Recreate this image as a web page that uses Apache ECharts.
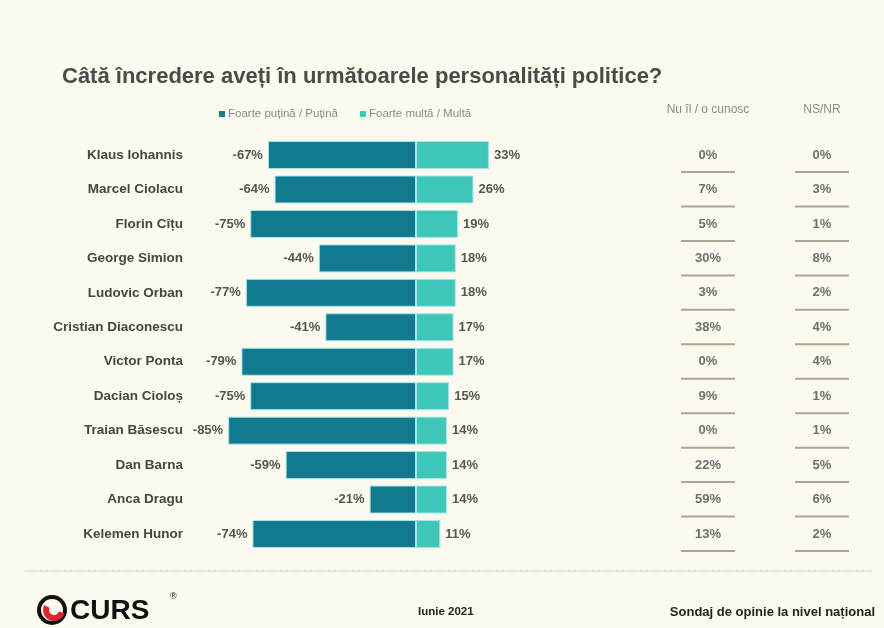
<!DOCTYPE html>
<html><head><meta charset="utf-8">
<script src="https://cdn.jsdelivr.net/npm/echarts@6/dist/echarts.min.js"></script>
<style>html,body{margin:0;padding:0;background:#fcfaef;}#c{width:884px;height:628px;}</style>
</head><body><div id="c"></div>
<script>
const names = ['Klaus Iohannis','Marcel Ciolacu','Florin Cîțu','George Simion','Ludovic Orban','Cristian Diaconescu','Victor Ponta','Dacian Cioloș','Traian Băsescu','Dan Barna','Anca Dragu','Kelemen Hunor'];
const little = [-67,-64,-75,-44,-77,-41,-79,-75,-85,-59,-21,-74];
const much = [33,26,19,18,18,17,17,15,14,14,14,11];
const dontKnow = [0,7,5,30,3,38,0,9,0,22,59,13];
const nsnr = [0,3,1,8,2,4,4,1,1,5,6,2];
const colHeaders = ['Nu îl / o cunosc','NS/NR'];

const tableData = [];
dontKnow.forEach((v,i)=>tableData.push([0,i,v]));
nsnr.forEach((v,i)=>tableData.push([1,i,v]));

const chart = echarts.init(document.getElementById('c'));
const font = 'Liberation Sans, Arial, sans-serif';
chart.setOption({
  backgroundColor:'#fcfaef',
  animation:false,
  title:{text:'Câtă încredere aveți în următoarele personalități politice?',left:57,top:61,
    textStyle:{fontFamily:font,fontSize:22,fontWeight:'bold',color:'#4a4a4a'}},
  legend:{left:214,top:103,itemWidth:6,itemHeight:6,icon:'rect',itemGap:22,
    itemStyle:{borderWidth:0},
    textStyle:{fontFamily:font,fontSize:11.5,color:'#8a8a8a',padding:[0,0,0,-2]},
    data:['Foarte puțină / Puțină','Foarte multă / Multă']},
  grid:[{left:195,width:309.4,top:137.8,height:413.4},
        {left:651,width:228,top:137.8,height:413.4}],
  xAxis:[{type:'value',min:-100,max:40,gridIndex:0,show:false},
         {type:'category',gridIndex:1,data:colHeaders,position:'top',
          axisLine:{show:false},axisTick:{show:false},
          axisLabel:{margin:22,fontFamily:font,fontSize:12,color:'#8a8a8a'}}],
  yAxis:[{type:'category',data:names,inverse:true,gridIndex:0,
          axisLine:{show:false},axisTick:{show:false},
          axisLabel:{margin:12,fontFamily:font,fontSize:13.5,fontWeight:'bold',color:'#454545'}},
         {type:'category',data:names,inverse:true,gridIndex:1,show:false}],
  series:[
    {name:'Foarte puțină / Puțină',type:'bar',stack:'a',data:little,barWidth:28,
     itemStyle:{color:'#13798f',borderColor:'#a8e6ec',borderWidth:1},
     label:{show:true,position:'left',distance:5,formatter:'{c}%',fontFamily:font,fontSize:13,fontWeight:'bold',color:'#555'}},
    {name:'Foarte multă / Multă',type:'bar',stack:'a',data:much,barWidth:28,
     itemStyle:{color:'#3ec6b8',borderColor:'#a8e6ec',borderWidth:1},
     label:{show:true,position:'right',distance:5,formatter:'{c}%',fontFamily:font,fontSize:13,fontWeight:'bold',color:'#555'}},
    {type:'custom',xAxisIndex:1,yAxisIndex:1,data:tableData,
     renderItem:function(params,api){
       const p = api.coord([api.value(0),api.value(1)]);
       return {type:'group',children:[
         {type:'text',style:{text:api.value(2)+'%',x:p[0],y:p[1],align:'center',verticalAlign:'middle',
           font:'bold 13px '+font,fill:'#6f6f6f'}},
         {type:'line',shape:{x1:p[0]-27,y1:p[1]+17,x2:p[0]+27,y2:p[1]+17},style:{stroke:'#aaa696',lineWidth:2}}
       ]};
     }}
  ],
  graphic:[
    {type:'line',shape:{x1:25,y1:571,x2:872,y2:571},style:{stroke:'#d2d0c6',lineWidth:1.5,lineDash:[2,1]}},
    {type:'circle',shape:{cx:52,cy:610,r:13},style:{fill:'none',stroke:'#111',lineWidth:4}},
    {type:'arc',shape:{cx:54,cy:610,r:8,startAngle:0.3,endAngle:3.6},style:{stroke:'#d8262b',lineWidth:6,fill:'none'}},
    {type:'text',style:{text:'CURS',x:70,y:611,verticalAlign:'middle',font:'bold 28px '+font,fill:'#111'}},
    {type:'text',style:{text:'®',x:170,y:597,verticalAlign:'middle',font:'9px '+font,fill:'#111'}},
    {type:'text',style:{text:'Iunie 2021',x:418,y:612,verticalAlign:'middle',font:'bold 11.5px '+font,fill:'#222'}},
    {type:'text',style:{text:'Sondaj de opinie la nivel național',x:875,y:612,align:'right',verticalAlign:'middle',font:'bold 13px '+font,fill:'#222'}}
  ]
});
</script></body></html>
